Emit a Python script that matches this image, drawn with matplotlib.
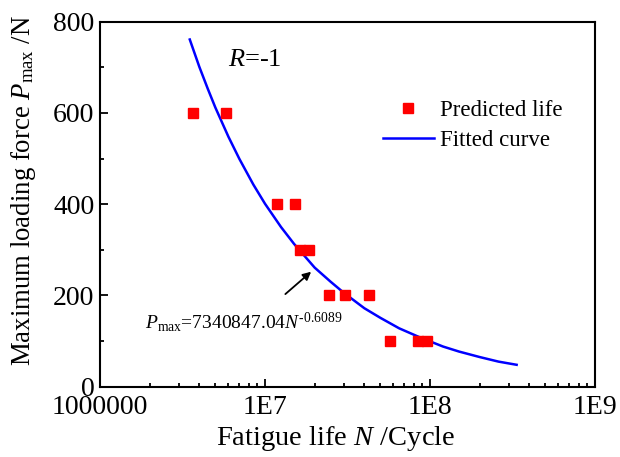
import matplotlib
matplotlib.use("Agg")
import matplotlib.pyplot as plt
from matplotlib.ticker import FixedLocator, MultipleLocator, LogLocator, NullFormatter

plt.rcParams['font.family'] = ['Liberation Serif', 'DejaVu Serif']
plt.rcParams['mathtext.fontset'] = 'custom'
plt.rcParams['mathtext.rm'] = 'Liberation Serif'
plt.rcParams['mathtext.it'] = 'Liberation Serif:italic'

# predicted life points
pred_N = [3.67e6, 5.78e6, 1.19e7, 1.52e7, 1.64e7, 1.85e7,
          2.43e7, 3.07e7, 4.29e7, 5.7e7, 8.5e7, 9.6e7]
pred_P = [600, 600, 400, 400, 300, 300,
          200, 200, 200, 100, 100, 100]

# fitted curve P = 7340847.04 N^-0.6089
fit_N = [3.5e6, 4e6, 4.5e6, 5e6, 6e6, 7e6, 8.5e6, 1e7, 1.25e7, 1.5e7, 2e7,
         2.5e7, 3e7, 4e7, 5e7, 6.5e7, 8.7e7, 1.2e8, 1.5e8, 2e8, 2.6e8, 3.35e8]
fit_P = [761, 701, 653, 612, 548, 499, 443, 401, 350, 313, 261,
         230, 206, 172, 151, 128, 108, 88, 77, 65, 55, 48]

xticks = [1e6, 1e7, 1e8, 1e9]
xtick_labels = ['1000000', '1E7', '1E8', '1E9']
yticks = [0, 200, 400, 600, 800]

fig = plt.figure(figsize=(6.2, 4.57), dpi=100)
ax = fig.add_axes([100 / 620, 1 - 386.7 / 457, 495 / 620, 365 / 457])

ax.plot(pred_N, pred_P, 's', color='red', ms=6.5, mec='red', label='Predicted life', zorder=3)
ax.plot(fit_N, fit_P, '-', color='blue', lw=1.8, label='Fitted curve', zorder=2)

ax.set_xscale('log')
ax.set_xlim(1e6, 1e9)
ax.set_ylim(0, 800)
ax.xaxis.set_major_locator(FixedLocator(xticks))
ax.set_xticklabels(xtick_labels)
ax.xaxis.set_minor_locator(LogLocator(base=10, subs=range(2, 10)))
ax.xaxis.set_minor_formatter(NullFormatter())
ax.set_yticks(yticks)
ax.yaxis.set_minor_locator(MultipleLocator(100))

ax.tick_params(which='both', direction='in', top=False, right=False, labelsize=20, width=1.3)
ax.tick_params(which='major', length=6)
ax.tick_params(which='minor', length=3)
ax.tick_params(axis='y', which='major', pad=4)
ax.tick_params(axis='x', which='major', pad=6)
for s in ax.spines.values():
    s.set_linewidth(1.5)

ax.set_xlabel(r'Fatigue life $\it{N}$ /Cycle', fontsize=20.5)
ax.xaxis.set_label_coords(0.475, -0.102)
ax.set_ylabel(r'Maximum loading force $\it{P}_{\rm max}$ /N', fontsize=19.3)
ax.yaxis.set_label_coords(-0.125, 0.537)

ax.text(0.258, 0.925, r'$\it{R}$=-1', transform=ax.transAxes, fontsize=19, va='top', ha='left')

ax.annotate('', xy=(1.96e7, 256), xytext=(1.29e7, 199),
            arrowprops=dict(arrowstyle='-|>', color='black', lw=1.3, mutation_scale=12))
ax.text(1.87e6, 168, r'$\it{P}_{\rm max}$=7340847.04$\it{N}^{\text{-0.6089}}$', fontsize=14,
        va='top', ha='left')

ax.legend(loc='upper right', bbox_to_anchor=(0.977, 0.842), frameon=False, fontsize=16.5,
          handlelength=2.2, handletextpad=0.3, labelspacing=0.37)

fig.savefig('out.png', dpi=100)
